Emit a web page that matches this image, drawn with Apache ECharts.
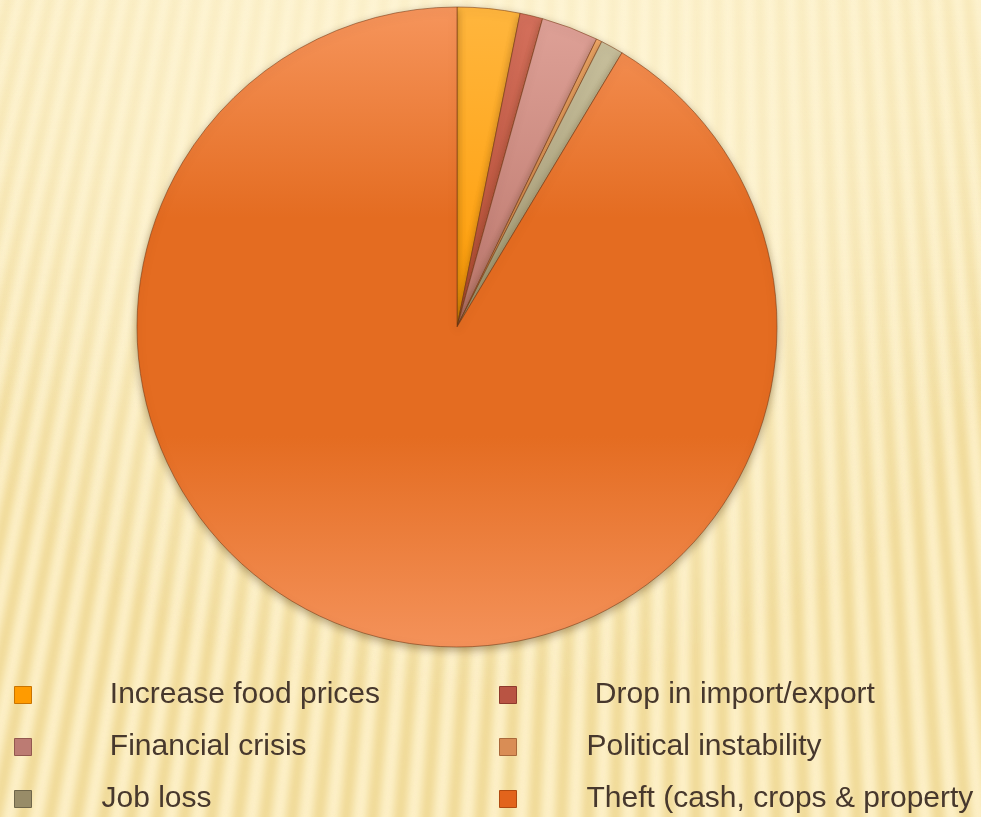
<!DOCTYPE html>
<html>
<head>
<meta charset="utf-8">
<title>Causes</title>
<script src="https://cdn.jsdelivr.net/npm/echarts@6/dist/echarts.min.js"></script>
<style>
  html, body { margin: 0; padding: 0; width: 981px; height: 817px; overflow: hidden; background: #FEF2CB; }
  #stage { position: relative; width: 981px; height: 817px; overflow: hidden; }
  #bg, #glow, #chart { position: absolute; left: 0; top: 0; width: 981px; height: 817px; }
  #glow {
    background:
      radial-gradient(ellipse 560px 460px at 470px 240px, rgba(255,247,220,0.85), rgba(255,247,220,0) 100%),
      linear-gradient(180deg, rgba(255,247,218,0.5) 0%, rgba(255,247,218,0) 50%);
  }
</style>
</head>
<body>
<div id="stage">
  <canvas id="bg" width="981" height="817"></canvas>
  <div id="glow"></div>
  <div id="chart"></div>
</div>
<script>
// Backdrop: soft tan bands fanning toward a point far above the page
(function drawBackdrop() {
  const cv = document.getElementById('bg');
  const ctx = cv.getContext('2d');
  const W = cv.width, H = cv.height;
  ctx.fillStyle = '#FEF2CB';
  ctx.fillRect(0, 0, W, H);
  const vanishX = 700, topScale = 0.77, period = 27, half = 6.5;
  ctx.filter = 'blur(4px)';
  ctx.fillStyle = '#EFD894';
  for (let xb = -600; xb < W + 600; xb += period) {
    const xt = vanishX + (xb - vanishX) * topScale;
    ctx.beginPath();
    ctx.moveTo(xb - half, H + 10);
    ctx.lineTo(xb + half, H + 10);
    ctx.lineTo(xt + half * topScale, -10);
    ctx.lineTo(xt - half * topScale, -10);
    ctx.closePath();
    ctx.fill();
  }
  ctx.filter = 'none';
})();

// Categories and counts per cause
const categories = [
  ' Increase food prices',
  ' Drop in import/export',
  ' Financial crisis',
  'Political instability',
  'Job loss',
  'Theft (cash, crops & property'
];
const counts = [11, 4, 10, 1, 4, 318];

// Legend columns (indices into categories)
const leftColumn = [0, 2, 4];
const rightColumn = [1, 3, 5];

// Slice fills: lighter at top, deeper toward the bottom
const sliceStops = [
  [[0, '#FFB63E'], [1, '#FF9C05']],
  [[0, '#D4705C'], [1, '#B44B33']],
  [[0, '#DEA197'], [1, '#BA766B']],
  [[0, '#F2AA6A'], [1, '#DA8A4A']],
  [[0, '#C7BF9C'], [1, '#A29872']],
  [[0, '#F6955C'], [0.33, '#E46C21'], [0.67, '#E46C21'], [1, '#F4925A']]
];
const swatchColors = ['#FF9B00', '#B95443', '#BC7B73', '#D98D55', '#988C68', '#E2641C'];
const swatchBorders = ['#C97400', '#8E3A2C', '#93584F', '#A9683A', '#6F664A', '#B04A10'];

function grad(stops) {
  return new echarts.graphic.LinearGradient(0, 0, 0, 1,
    stops.map(s => ({ offset: s[0], color: s[1] })));
}

const pieData = categories.map((name, i) => ({
  name: name,
  value: counts[i],
  itemStyle: { color: grad(sliceStops[i]) }
}));

function legendData(idx) {
  return idx.map(i => ({
    name: categories[i],
    itemStyle: { color: swatchColors[i], borderColor: swatchBorders[i], borderWidth: 1 }
  }));
}

const legendBase = {
  orient: 'vertical',
  top: 680,
  padding: 0,
  itemWidth: 17,
  itemHeight: 17,
  itemGap: 22,
  icon: 'rect',
  selectedMode: false,
  textStyle: {
    fontFamily: '"Liberation Sans", Arial, sans-serif',
    fontSize: 30,
    lineHeight: 30,
    color: '#47382D',
    padding: [0, 0, 0, 65]
  }
};

const chart = echarts.init(document.getElementById('chart'), null, { renderer: 'canvas' });
chart.setOption({
  backgroundColor: 'transparent',
  animation: false,
  legend: [
    Object.assign({}, legendBase, { left: 14, data: legendData(leftColumn) }),
    Object.assign({}, legendBase, { left: 499, data: legendData(rightColumn) })
  ],
  series: [{
    type: 'pie',
    center: [457, 327],
    radius: 320,
    startAngle: 90,
    clockwise: true,
    label: { show: false },
    labelLine: { show: false },
    emphasis: { disabled: true },
    itemStyle: {
      borderColor: 'rgba(115,52,18,0.55)',
      borderWidth: 1,
      shadowBlur: 8,
      shadowOffsetY: 3,
      shadowColor: 'rgba(70,45,0,0.4)'
    },
    data: pieData
  }]
});
</script>
</body>
</html>
